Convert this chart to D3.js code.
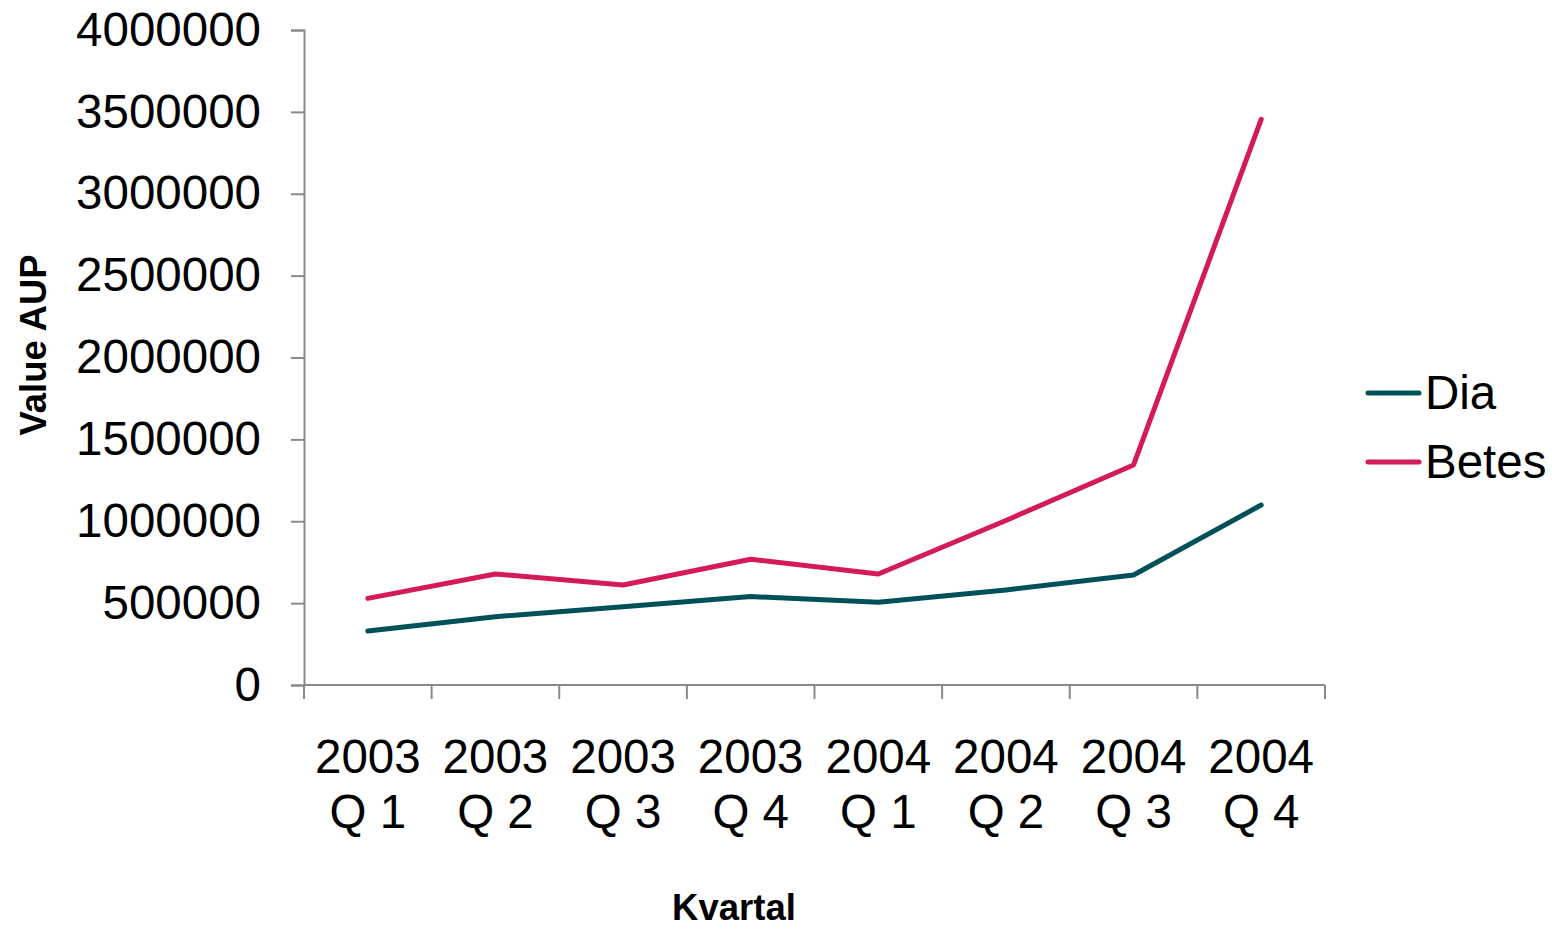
<!DOCTYPE html>
<html><head><meta charset="utf-8">
<script src="https://cdn.jsdelivr.net/npm/d3@7/dist/d3.min.js"></script>
<style>body{margin:0;background:#fff}svg{display:block}text{font-family:"Liberation Sans",Arial,sans-serif}</style>
</head><body>
<svg id="c" width="1552" height="930"></svg>
<script>
const categories = [["2003","Q 1"],["2003","Q 2"],["2003","Q 3"],["2003","Q 4"],["2004","Q 1"],["2004","Q 2"],["2004","Q 3"],["2004","Q 4"]];
const dia = [330000, 417000, 478000, 540000, 505000, 580000, 672000, 1099000];
const betes = [529000, 678000, 611000, 768000, 678000, 1005000, 1344000, 3454000];
const seriesNames = ["Dia", "Betes"];
const yTicks = [0, 500000, 1000000, 1500000, 2000000, 2500000, 3000000, 3500000, 4000000];
const colors = ["#00505A", "#D41A5A"];

const svg = d3.select("#c");
const x = d3.scaleBand().domain(d3.range(categories.length)).range([304, 1325]);
const y = d3.scaleLinear().domain([0, 4000000]).range([685, 30]);
const axisColor = "#898989";

// y axis
const ya = svg.append("g").attr("transform", "translate(304,0)")
  .call(d3.axisLeft(y).tickValues(yTicks).tickSize(13).tickPadding(30).tickFormat(d3.format("d")));
ya.select(".domain").attr("stroke", axisColor).attr("stroke-width", 2);
ya.selectAll(".tick line").attr("stroke", axisColor).attr("stroke-width", 2);
ya.selectAll(".tick text").attr("font-size", 47.5).attr("fill", "#000").attr("font-family", "Liberation Sans, Arial, sans-serif");

// x axis
const xa = svg.append("g").attr("transform", "translate(0,685)");
xa.append("line").attr("x1", 304).attr("x2", 1325).attr("y1", 0).attr("y2", 0).attr("stroke", axisColor).attr("stroke-width", 2);
const bounds = d3.range(categories.length + 1).map(i => i < categories.length ? x(i) : x(categories.length - 1) + x.bandwidth());
xa.selectAll("line.t").data(bounds).join("line").attr("class", "t")
  .attr("x1", d => d).attr("x2", d => d).attr("y1", 0).attr("y2", 14)
  .attr("stroke", axisColor).attr("stroke-width", 2);
const lab = xa.selectAll("text.l").data(categories).join("text").attr("class", "l")
  .attr("x", (d, i) => x(i) + x.bandwidth() / 2)
  .attr("text-anchor", "middle").attr("font-size", 47.5).attr("fill", "#000");
lab.append("tspan").attr("x", (d, i) => x(i) + x.bandwidth() / 2).attr("y", 88).text(d => d[0]);
lab.append("tspan").attr("x", (d, i) => x(i) + x.bandwidth() / 2).attr("y", 143).text(d => d[1]);

// lines
const line = d3.line().x((d, i) => x(i) + x.bandwidth() / 2).y(d => y(d));
[dia, betes].forEach((s, k) => {
  svg.append("path").datum(s).attr("d", line).attr("fill", "none")
    .attr("stroke", colors[k]).attr("stroke-width", 5)
    .attr("stroke-linejoin", "round").attr("stroke-linecap", "round");
});

// legend
seriesNames.forEach((n, k) => {
  const yy = 393 + k * 69;
  svg.append("line").attr("x1", 1368).attr("x2", 1419).attr("y1", yy).attr("y2", yy)
    .attr("stroke", colors[k]).attr("stroke-width", 5).attr("stroke-linecap", "round");
  svg.append("text").attr("x", 1425).attr("y", yy + 16).attr("font-size", 47.5).text(n);
});

// axis titles
svg.append("text").attr("transform", "translate(46,345) rotate(-90)").attr("text-anchor", "middle")
  .attr("font-size", 36.5).attr("font-weight", "bold").text("Value AUP");
svg.append("text").attr("x", 734).attr("y", 920).attr("text-anchor", "middle")
  .attr("font-size", 36.5).attr("font-weight", "bold").text("Kvartal");
</script>
</body></html>
